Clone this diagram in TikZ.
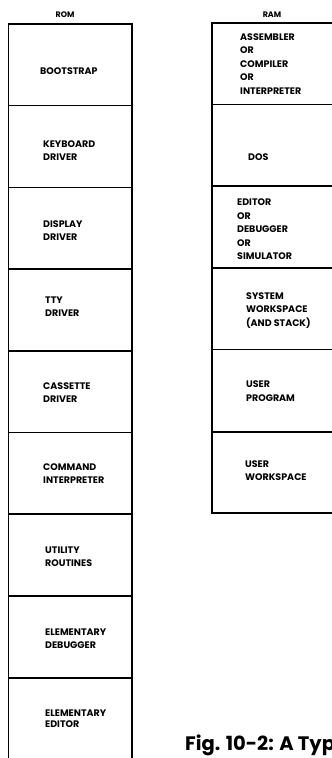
\documentclass[tikz,border=0pt]{standalone}
\usepackage{fontspec}
\setmainfont{Poppins}
\begin{document}
\begin{tikzpicture}[x=1pt,y=-1pt,
  frame/.style={line width=1.4pt},
  lbl/.style={font=\bfseries\fontsize{9.5}{13.5}\selectfont, align=left, anchor=base west, inner sep=0pt},
  tight/.style={font=\bfseries\fontsize{9.5}{10.5}\selectfont},
  head/.style={font=\bfseries\fontsize{8}{9}\selectfont, anchor=base, inner sep=0pt},
  figcap/.style={font=\bfseries\fontsize{19.5}{21}\selectfont, anchor=base west, inner sep=0pt}]
\clip (0,0) rectangle (332,758);
\fill[white] (0,0) rectangle (332,758);
% ROM column
\node[head] (romhead) at (65,17) {ROM};
\foreach \a/\b in {24/105.7,105.7/187.4,187.4/269,269/350.8,350.8/432.5,432.5/514,514/596,596/678,678/760}
  \draw[frame] (8.5,\a) rectangle (132,\b);
\node[lbl] (r1) at (40,74) {BOOTSTRAP};
\node[lbl] (r2) at (43,160.5) {KEYBOARD\\DRIVER};
\node[lbl] (r3) at (43,240.5) {DISPLAY\\DRIVER};
\node[lbl] (r4) at (45,316.5) {TTY\\DRIVER};
\node[lbl] (r5) at (43,402.5) {CASSETTE\\DRIVER};
\node[lbl] (r6) at (43,483.5) {COMMAND\\INTERPRETER};
\node[lbl] (r7) at (45,566.5) {UTILITY\\ROUTINES};
\node[lbl] (r8) at (45,648.5) {ELEMENTARY\\DEBUGGER};
\node[lbl,tight] (r9) at (45,727) {ELEMENTARY\\EDITOR};
% RAM column
\node[head] (ramhead) at (272,17) {RAM};
\foreach \a/\b in {23/104.5,104.5/186,186/268,268/349.5,349.5/432,432/513}
  \draw[frame] (212,\a) rectangle (345,\b);
\node[lbl] (m1) at (240,94) {ASSEMBLER\\OR\\COMPILER\\OR\\INTERPRETER};
\node[lbl] (m2) at (248,160) {DOS};
\node[lbl] (m3) at (237,259.5) {EDITOR\\OR\\DEBUGGER\\OR\\SIMULATOR};
\node[lbl] (m4) at (246,326) {SYSTEM\\WORKSPACE\\(AND STACK)};
\node[lbl] (m5) at (246,401) {USER\\PROGRAM};
\node[lbl] (m6) at (245,480.5) {USER\\WORKSPACE};
% caption
\node[figcap] (caption) at (185,750) {Fig. 10-2: A Typ};
\end{tikzpicture}
\end{document}
